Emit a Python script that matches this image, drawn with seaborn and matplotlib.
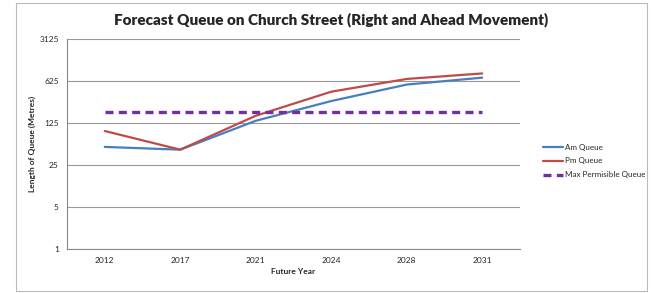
import matplotlib
matplotlib.use("Agg")
import matplotlib.pyplot as plt
from matplotlib.patches import Rectangle
from matplotlib.ticker import FixedLocator, FixedFormatter, NullLocator
import pandas as pd
import seaborn as sns

years = ["2012", "2017", "2021", "2024", "2028", "2031"]
am_queue = [50, 45, 136, 290, 545, 710]
pm_queue = [92, 45, 165, 415, 676, 835]
max_queue = [190, 190, 190, 190, 190, 190]
y_ticks = [1, 5, 25, 125, 625, 3125]

series_names = ["Am Queue", "Pm Queue", "Max Permisible Queue"]
palette = {"Am Queue": "#4A7EBB", "Pm Queue": "#BE4B48", "Max Permisible Queue": "#7030A0"}

df = pd.DataFrame({
    "Year": years * 3,
    "Queue": am_queue + pm_queue + max_queue,
    "Series": sum([[s] * len(years) for s in series_names], []),
})
df["pos"] = list(range(len(years))) * 3

sns.set_style("white")
plt.rcParams["font.family"] = ["Lato", "DejaVu Sans"]

fig = plt.figure(figsize=(6.51, 2.93), dpi=100)
ax = fig.add_axes([67 / 651, 1 - 249 / 293, (520 - 67) / 651, (249 - 39) / 293])

sns.lineplot(data=df, x="pos", y="Queue", hue="Series", style="Series",
             palette=palette, hue_order=series_names,
             dashes={"Am Queue": "", "Pm Queue": "", "Max Permisible Queue": (2.4, 1.6)},
             linewidth=1.6, ax=ax, legend=False)
ax.lines[2].set_linewidth(2.4)

ax.set_yscale("log", base=5)
ax.set_ylim(1, 3125)
ax.set_xlim(-0.5, len(years) - 0.5)
ax.yaxis.set_major_locator(FixedLocator(y_ticks))
ax.yaxis.set_major_formatter(FixedFormatter([str(t) for t in y_ticks]))
ax.yaxis.set_minor_locator(NullLocator())

ax.set_xticks(range(len(years)))
ax.set_xticklabels(years)
ax.set_xticks([i - 0.5 for i in range(len(years) + 1)], minor=True)
ax.tick_params(axis="x", which="major", length=0, labelsize=6, pad=6)
ax.tick_params(axis="x", which="minor", length=3, color="#888888", direction="out")
ax.tick_params(axis="y", which="major", length=3, color="#888888", labelsize=6, pad=3, direction="out")

ax.grid(axis="y", color="#999999", linewidth=0.8)
ax.grid(axis="x", visible=False)
for side in ["top", "right"]:
    ax.spines[side].set_visible(False)
for side in ["left", "bottom"]:
    ax.spines[side].set_color("#888888")
    ax.spines[side].set_linewidth(0.8)

ax.set_xlabel("Future Year", fontsize=6, fontweight="bold", labelpad=3)
ax.set_ylabel("Length of Queue (Metres)", fontsize=6, fontweight="bold", labelpad=2)

fig.text(331 / 651, 1 - 20 / 293, "Forecast Queue on Church Street (Right and Ahead Movement)",
         ha="center", va="center", fontsize=11, fontweight="heavy")

# legend beside the plot
handles = ax.lines[:3]
leg = fig.legend(handles, series_names, loc="center left", bbox_to_anchor=(537 / 651, 1 - 161 / 293),
                 frameon=False, fontsize=5.8, handlelength=2.5, handletextpad=0.25, labelspacing=0.85,
                 borderpad=0.2)

fig.patches.append(Rectangle((16 / 651, 2 / 293), (647 - 16) / 651, (290 - 2) / 293,
                             transform=fig.transFigure, fill=False, edgecolor="#BBBBBB", linewidth=0.8))

fig.savefig("out.png", dpi=100, facecolor="white")
